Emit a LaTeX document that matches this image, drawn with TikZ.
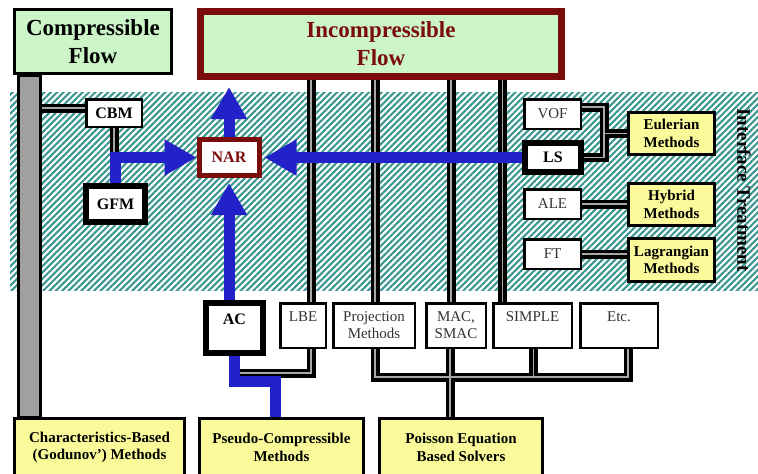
\documentclass[tikz,border=0pt]{standalone}
\usepackage{fontspec}
\setmainfont{Liberation Serif}
\usetikzlibrary{arrows.meta,patterns.meta,calc}
\definecolor{cgreen}{HTML}{CCF5C8}
\definecolor{cyel}{HTML}{FAFA9A}
\definecolor{dred}{HTML}{7A0C0C}
\definecolor{cblue}{HTML}{2222C8}
\definecolor{hatchc}{HTML}{3A9690}
\definecolor{gbarc}{HTML}{A0A0A0}
\definecolor{stripe}{HTML}{A8A8A8}
\newcommand\myconnpaths{%
  \draw[cc] ([yshift=5pt]CBM.west) -- ([yshift=5pt]CBM.west -| gb);
  \draw[cc] (CBM.south) -- (CBM.south |- GFM.north);
  \draw[cc] ([xshift=8pt]LBE.north) -- ([xshift=8pt]LBE.north |- Inc.south);
  \draw[cc] ([xshift=1pt]Proj.north) -- ([xshift=1pt]Proj.north |- Inc.south);
  \draw[cc] ([xshift=-5pt]MAC.north) -- ([xshift=-5pt]MAC.north |- Inc.south);
  \draw[cc] ([xshift=-30pt]SIM.north) -- ([xshift=-30pt]SIM.north |- Inc.south);
  \draw[cc] ([xshift=8pt]LBE.south) |- (lbej);
  \draw[cc] ([xshift=1pt]Proj.south) |- ([xshift=9pt,yshift=-28pt]Etc.south) -- ([xshift=9pt]Etc.south);
  \draw[cc] ([xshift=1pt]SIM.south) -- ([xshift=1pt,yshift=-28pt]SIM.south);
  \draw[cc] ([xshift=-6pt]MAC.south) -- ([xshift=-6pt]MAC.south |- Pois.north);
  \draw[cc] ([yshift=7pt]VOF.east) -| (brk) -- (LS.east);
  \draw[cc] (Eul.west) -- (Eul.west -| brk);
  \draw[cc] (ALE.east) -- (ALE.east -| Hyb.west);
  \draw[cc] (FT.east) -- (FT.east -| Lag.west);
}
\begin{document}
\begin{tikzpicture}[x=1pt,y=-1pt,
  rbox/.style={draw, fill=white, line width=2.5pt, inner sep=0pt, align=center,
    text=black!80, font={\fontsize{15}{17}\selectfont}},
  bbox/.style={rbox, text=black, font={\bfseries\fontsize{16}{18}\selectfont}},
  tbox/.style={bbox, line width=6pt},
  meth/.style={draw, fill=cyel, line width=3pt, inner sep=0pt, align=center,
    font={\bfseries\fontsize{15}{17.5}\selectfont}},
  flow/.style={draw, fill=cgreen, inner sep=0pt, align=center,
    font={\bfseries\fontsize{23}{28}\selectfont}},
  connout/.style={line width=9pt, black, line join=miter},
  connin/.style={line width=1.3pt, stripe, line join=miter},
  gbar/.style={draw=black, fill=gbarc, line width=3pt},
  bline/.style={cblue, line width=11pt, line join=miter},
  barrow/.style={bline, -{Triangle[length=32pt,width=34pt]}}
]
\useasboundingbox (0,0) rectangle (758,474);
% hatched interface band
\fill[white] (10,92) rectangle (758,290);
\fill[pattern={Lines[angle=45,distance=4.5pt,line width=2.1pt]}, pattern color=hatchc] (10,92) rectangle (758,290);

% top flow boxes
\node[flow, line width=3pt, minimum width=157pt, minimum height=64pt] (Comp) at (93,41.5) {Compressible\\Flow};
\node[flow, draw=dred, text=dred, line width=7pt, minimum width=361pt, minimum height=65pt] (Inc) at (381,44) {Incompressible\\Flow};

% left group
\node[bbox, minimum width=55.5pt, minimum height=27.5pt] (CBM) at (114,113) {CBM};
\node[tbox, minimum width=59pt, minimum height=36pt] (GFM) at (115.5,204) {GFM};
\node[tbox, draw=dred, text=dred, line width=5pt, minimum width=60pt, minimum height=36pt] (NAR) at (229,157.5) {NAR};

% right group
\node[rbox, minimum width=56.5pt, minimum height=29.5pt] (VOF) at (552.5,114) {VOF};
\node[tbox, minimum width=56pt, minimum height=29pt] (LS) at (553,157.5) {LS};
\node[rbox, minimum width=56.5pt, minimum height=29.5pt] (ALE) at (552.5,204) {ALE};
\node[rbox, minimum width=56.5pt, minimum height=29.5pt] (FT) at (552.5,254) {FT};
\node[meth, minimum width=86pt, minimum height=42pt] (Eul) at (671.5,133.5) {Eulerian\\Methods};
\node[meth, minimum width=86pt, minimum height=42pt] (Hyb) at (671.5,204.5) {Hybrid\\Methods};
\node[meth, minimum width=86pt, minimum height=43pt] (Lag) at (671.5,260) {Lagrangian\\Methods};
\node[rotate=-90, font={\bfseries\fontsize{19}{22}\selectfont}] (IT) at (744,190) {Interface Treatment};

% solver row
\node[tbox, minimum width=57pt, minimum height=50pt] (AC) at (234.5,328) {AC\\\mbox{}};
\node[rbox, minimum width=45.5pt, minimum height=44.5pt] (LBE) at (303,325.5) {LBE\\\mbox{}};
\node[rbox, minimum width=81.5pt, minimum height=44.5pt] (Proj) at (374,325.5) {Projection\\Methods};
\node[rbox, minimum width=59.5pt, minimum height=44.5pt] (MAC) at (456,325.5) {MAC,\\SMAC};
\node[rbox, minimum width=78.5pt, minimum height=44.5pt] (SIM) at (532.5,325.5) {SIMPLE\\\mbox{}};
\node[rbox, minimum width=77.5pt, minimum height=44.5pt] (Etc) at (619,325.5) {Etc.\\\mbox{}};

% bottom method boxes
\node[meth, minimum width=170pt, minimum height=58pt] (Char) at (99.5,447.5) {Characteristics-Based\\(Godunov’) Methods};
\node[meth, minimum width=164pt, minimum height=58pt] (Pseu) at (281.5,447.5) {Pseudo-Compressible\\Methods};
\node[meth, minimum width=163pt, minimum height=58pt] (Pois) at (461,447.5) {Poisson Equation\\Based Solvers};

% helper coordinates
\coordinate (lbej) at ($(AC.south)+(0,17)$);
\coordinate (brk) at ($(LS.east)+(20,0)$);
\coordinate (gb) at ([xshift=16pt]Comp.south west);

% black double connectors
\tikzset{cc/.style=connout}
\myconnpaths
\tikzset{cc/.style=connin}
\myconnpaths

% grey bar
\draw[gbar] ([xshift=5pt]Comp.south west) rectangle ([xshift=27pt]Char.north west);

% blue arrows
\draw[barrow] (GFM.north) |- (NAR.west);
\draw[barrow, shorten >=7pt] (NAR.north) -- (NAR.north |- Inc.south);
\draw[barrow, shorten >=5pt] (NAR.south |- AC.north) -- (NAR.south);
\draw[barrow, shorten >=3pt] (LS.west) -- (NAR.east);
\draw[bline] (AC.south) |- ($([xshift=-6pt]Pseu.north)+(0,-36)$) -- ([xshift=-6pt]Pseu.north);
\end{tikzpicture}
\end{document}
